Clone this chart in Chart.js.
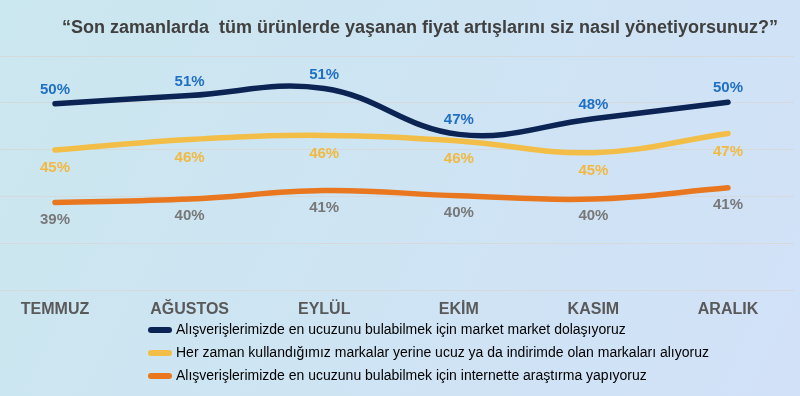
<!DOCTYPE html>
<html>
<head>
<meta charset="utf-8">
<script src="https://cdn.jsdelivr.net/npm/chart.js@4.4.0/dist/chart.umd.min.js"></script>
<style>
  html, body { margin: 0; padding: 0; background: #cfe5f3; }
  #wrap { width: 800px; height: 396px; }
</style>
</head>
<body>
<div id="wrap"><canvas id="c" width="800" height="396"></canvas></div>
<script>
// ---- data ----
const months = ["TEMMUZ", "AĞUSTOS", "EYLÜL", "EKİM", "KASIM", "ARALIK"];
const marketTour = [49.86, 50.74, 51.49, 46.6, 48.27, 50.03];
const cheaperBrands = [44.93, 46.06, 46.49, 45.9, 44.65, 46.7];
const onlineResearch = [39.34, 39.7, 40.6, 40.05, 39.7, 40.9];
const seriesNames = [
  "Alışverişlerimizde en ucuzunu bulabilmek için market market dolaşıyoruz",
  "Her zaman kullandığımız markalar yerine ucuz ya da indirimde olan markaları alıyoruz",
  "Alışverişlerimizde en ucuzunu bulabilmek için internette araştırma yapıyoruz"
];
const titleText = "“Son zamanlarda  tüm ürünlerde yaşanan fiyat artışlarını siz nasıl yönetiyorsunuz?”";

// ---- style ----
const FONT = "'Liberation Sans', Arial, sans-serif";
const lineColors = ["#0b2454", "#f3be48", "#e8771f"];
const labelColors = ["#1f70c4", "#f1b941", "#787878"];
const labelOffsets = [-14, 18, 17];

const bgPlugin = {
  id: 'bg',
  beforeDraw(chart) {
    const ctx = chart.ctx;
    const g = ctx.createLinearGradient(0, 0, chart.width, chart.height);
    g.addColorStop(0, '#cbe7ef');
    g.addColorStop(0.5, '#cee4f3');
    g.addColorStop(1, '#d2e1f8');
    ctx.save();
    ctx.fillStyle = g;
    ctx.fillRect(0, 0, chart.width, chart.height);
    ctx.restore();
  }
};

const gridPlugin = {
  id: 'fullGrid',
  beforeDatasetsDraw(chart) {
    const y = chart.scales.y;
    const ctx = chart.ctx;
    ctx.save();
    ctx.strokeStyle = 'rgba(214,214,214,0.75)';
    ctx.lineWidth = 1;
    y.ticks.forEach(t => {
      const py = Math.round(y.getPixelForValue(t.value)) + 0.5;
      ctx.beginPath();
      ctx.moveTo(0, py);
      ctx.lineTo(794, py);
      ctx.stroke();
    });
    ctx.restore();
  }
};

const valueLabels = {
  id: 'valueLabels',
  afterDatasetsDraw(chart) {
    const ctx = chart.ctx;
    ctx.save();
    ctx.font = "bold 15px " + FONT;
    ctx.textAlign = 'center';
    ctx.textBaseline = 'middle';
    chart.data.datasets.forEach((ds, i) => {
      const meta = chart.getDatasetMeta(i);
      ctx.fillStyle = labelColors[i];
      meta.data.forEach((pt, j) => {
        ctx.fillText(Math.round(ds.data[j]) + '%', pt.x, pt.y + labelOffsets[i]);
      });
    });
    ctx.restore();
  }
};

const placePlugin = {
  id: 'place',
  afterLayout(chart) {
    if (chart.titleBlock) { chart.titleBlock.left = 40; chart.titleBlock.right = 800; }
    if (chart.legend) { chart.legend.left = 142; chart.legend.top = 314; }
  }
};

new Chart(document.getElementById('c'), {
  type: 'line',
  data: {
    labels: months,
    datasets: [
      { label: seriesNames[0], data: marketTour, borderColor: lineColors[0] },
      { label: seriesNames[1], data: cheaperBrands, borderColor: lineColors[1] },
      { label: seriesNames[2], data: onlineResearch, borderColor: lineColors[2] }
    ].map(d => Object.assign(d, {
      borderWidth: 5.5, tension: 0.4, pointRadius: 0, pointHoverRadius: 0,
      borderCapStyle: 'round', fill: false, clip: 10
    }))
  },
  options: {
    responsive: false,
    animation: false,
    layout: { padding: { left: 55, right: 72, top: 0, bottom: -5 } },
    plugins: {
      title: {
        display: true,
        text: titleText,
        color: '#404040',
        font: { family: FONT, size: 18, weight: 'bold' },
        padding: { top: 17, bottom: 17 }
      },
      legend: {
        display: true,
        position: 'bottom',
        align: 'start',
        labels: {
          usePointStyle: true,
          pointStyleWidth: 18,
          padding: 9,
          color: '#404040',
          font: { family: FONT, size: 14 },
          generateLabels(chart) {
            return chart.data.datasets.map((ds, i) => ({
              text: ds.label,
              fillStyle: ds.borderColor,
              strokeStyle: ds.borderColor,
              lineWidth: 6,
              lineCap: 'round',
              pointStyle: 'line',
              hidden: false,
              datasetIndex: i
            }));
          }
        }
      },
      tooltip: { enabled: false }
    },
    scales: {
      x: {
        type: 'category',
        offset: false,
        grid: { display: false },
        border: { display: false },
        ticks: {
          color: '#595959',
          font: { family: FONT, size: 16, weight: 'bold', lineHeight: 1 },
          padding: 4,
          maxRotation: 0,
          autoSkip: false
        }
      },
      y: {
        min: 30,
        max: 55,
        display: false,
        ticks: { stepSize: 5 },
        grid: { display: false }
      }
    }
  },
  plugins: [bgPlugin, gridPlugin, valueLabels, placePlugin]
});
</script>
</body>
</html>
